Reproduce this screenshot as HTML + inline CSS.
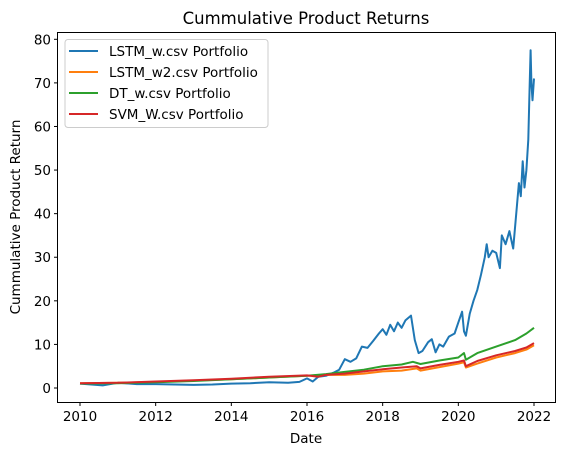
<!DOCTYPE html>
<html><head><meta charset="utf-8"><style>
body{margin:0;background:#fff}
svg{display:block;font-family:"DejaVu Sans","Liberation Sans",sans-serif}
</style></head><body>
<svg width="562" height="455" viewBox="0 0 562 455">
<text x="306" y="24" font-size="16.5" text-anchor="middle">Cummulative Product Returns</text>
<g id="plot"></g>
<rect x="57.5" y="32.5" width="498" height="370" fill="none" stroke="#000" stroke-width="1"/>
<g id="ticks"></g>
<text x="306" y="443" font-size="13.5" text-anchor="middle">Date</text>
<text transform="translate(20,217) rotate(-90)" font-size="13.5" text-anchor="middle">Cummulative Product Return</text>
<g id="legend"></g>
</svg>
<script>
const xTicks=[2010,2012,2014,2016,2018,2020,2022];
const yTicks=[0,10,20,30,40,50,60,70,80];
const seriesNames=["LSTM_w.csv Portfolio","LSTM_w2.csv Portfolio","DT_w.csv Portfolio","SVM_W.csv Portfolio"];
const seriesColors=["#1f77b4","#ff7f0e","#2ca02c","#d62728"];
const lstmDates=[2010,2010.3,2010.6,2011,2011.5,2012,2012.5,2013,2013.5,2014,2014.5,2015,2015.5,2015.8,2016,2016.15,2016.3,2016.5,2016.7,2016.85,2017,2017.15,2017.3,2017.45,2017.6,2017.75,2017.9,2018,2018.1,2018.2,2018.3,2018.4,2018.5,2018.6,2018.75,2018.85,2018.95,2019.05,2019.2,2019.3,2019.4,2019.5,2019.6,2019.75,2019.9,2020,2020.1,2020.15,2020.2,2020.3,2020.4,2020.5,2020.6,2020.7,2020.75,2020.8,2020.9,2021,2021.1,2021.15,2021.25,2021.35,2021.45,2021.55,2021.6,2021.65,2021.7,2021.75,2021.8,2021.85,2021.88,2021.91,2021.93,2021.96,2022];
const lstmVals=[1,0.8,0.6,1.2,0.9,0.9,0.8,0.7,0.8,1.0,1.1,1.3,1.2,1.4,2.2,1.5,2.6,2.8,3.5,4.2,6.6,6.0,6.8,9.5,9.2,10.8,12.5,13.5,12.2,14.5,13.0,15.0,13.8,15.5,16.6,11.0,8.0,8.5,10.5,11.2,8.2,10.0,9.5,11.8,12.5,15.0,17.5,13.0,12.0,17.0,20.0,22.5,26.0,30.0,33.0,30.0,31.5,31.0,27.5,35.0,33.0,36.0,32.0,42.0,47.0,44.0,52.0,46.0,50.0,57.0,68.0,77.5,70.0,66.0,71.0];
const lstm2Dates=[2010,2011,2012,2013,2014,2015,2016,2016.5,2017,2017.5,2018,2018.5,2018.9,2019,2019.5,2020,2020.15,2020.2,2020.5,2021,2021.5,2021.8,2022];
const lstm2Vals=[1.1,1.2,1.4,1.7,2.0,2.4,2.8,3.0,3.0,3.3,3.8,4.0,4.5,4.0,4.8,5.6,5.9,4.7,5.6,7.0,8.0,8.8,9.8];
const dtDates=[2010,2011,2012,2013,2014,2015,2016,2016.5,2017,2017.5,2018,2018.5,2018.8,2019,2019.5,2020,2020.15,2020.2,2020.5,2021,2021.5,2021.8,2022];
const dtVals=[1.0,1.1,1.3,1.6,2.0,2.4,2.8,3.2,3.7,4.2,5.0,5.4,6.0,5.5,6.3,7.0,8.0,6.5,8.0,9.5,11.0,12.5,13.8];
const svmDates=[2010,2011,2012,2013,2014,2015,2016,2016.3,2016.5,2017,2017.5,2018,2018.5,2018.9,2019,2019.5,2020,2020.15,2020.2,2020.5,2021,2021.5,2021.8,2022];
const svmVals=[1.1,1.2,1.5,1.8,2.1,2.6,2.9,2.6,3.0,3.3,3.8,4.3,4.7,5.0,4.5,5.3,6.0,6.3,5.0,6.2,7.5,8.5,9.3,10.3];
const NS="http://www.w3.org/2000/svg";
const X=y=>80+(y-2010)*(534-80)/12;
const Y=v=>388-v*(388-39.3)/80;
function mk(t,a,p){const e=document.createElementNS(NS,t);for(const k in a)e.setAttribute(k,a[k]);p.appendChild(e);return e;}
const plot=document.getElementById('plot');
const all=[[lstmDates,lstmVals],[lstm2Dates,lstm2Vals],[dtDates,dtVals],[svmDates,svmVals]];
all.forEach((s,i)=>{
  const d=s[0].map((t,j)=>(j?'L':'M')+X(t).toFixed(1)+','+Y(s[1][j]).toFixed(1)).join('');
  const p=mk('path',{d:d,fill:'none',stroke:seriesColors[i],'stroke-width':2,'stroke-linejoin':'round'},plot);
  
  
});
const tk=document.getElementById('ticks');
xTicks.forEach(t=>{
  const g=mk('g',{},tk);
  
  
  mk('line',{x1:X(t),x2:X(t),y1:402.5,y2:406,stroke:'#000'},g);
  const tx=mk('text',{x:X(t),y:421,'font-size':13.5,'text-anchor':'middle'},g);tx.textContent=t;
});
yTicks.forEach(v=>{
  const g=mk('g',{},tk);
  
  
  mk('line',{x1:54,x2:57.5,y1:Y(v),y2:Y(v),stroke:'#000'},g);
  const tx=mk('text',{x:51,y:Y(v)+5,'font-size':13.5,'text-anchor':'end'},g);tx.textContent=v;
});
const lg=document.getElementById('legend');
mk('rect',{x:65,y:39.5,width:203,height:88,rx:3,fill:'#fff','fill-opacity':0.8,stroke:'#ccc'},lg);
seriesNames.forEach((n,i)=>{
  const g=mk('g',{},lg);
  
  
  const yy=51+i*21;
  mk('line',{x1:69,x2:98,y1:yy,y2:yy,stroke:seriesColors[i],'stroke-width':2},g);
  const t=mk('text',{x:109,y:yy+5,'font-size':13.5},g);t.textContent=n;
});
</script>
</body></html>
